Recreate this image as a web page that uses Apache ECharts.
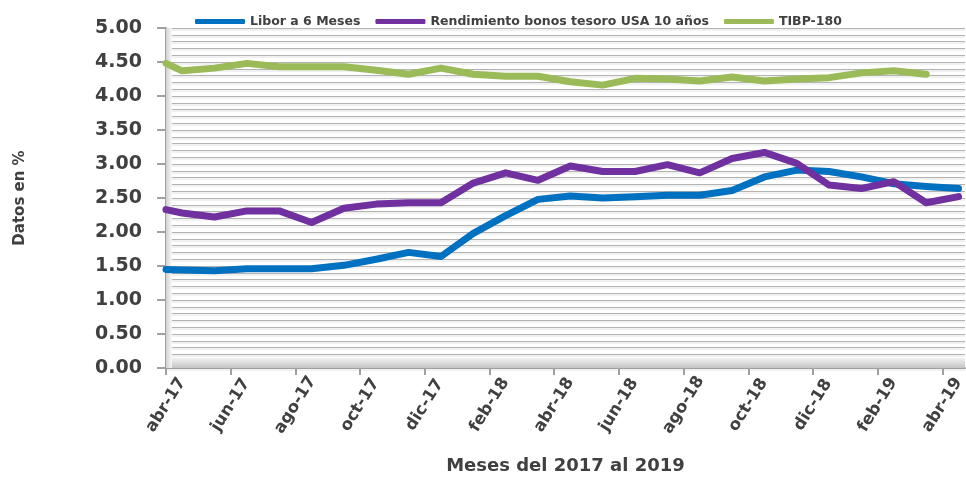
<!DOCTYPE html>
<html>
<head>
<meta charset="utf-8">
<script src="https://cdn.jsdelivr.net/npm/echarts@6/dist/echarts.min.js"></script>
<style>
  html, body { margin: 0; padding: 0; background: #fff; }
  #grafica { width: 966px; height: 480px; }
</style>
</head>
<body>
<div id="grafica"></div>
<script>
// Posición de cada dato en meses desde abr-17
const posicionMes = [0, 0.5, 1.5, 2.5, 3.5, 4.5, 5.5, 6.5, 7.5, 8.5, 9.5, 10.5, 11.5, 12.5,
  13.5, 14.5, 15.5, 16.5, 17.5, 18.5, 19.5, 20.5, 21.5, 22.5, 23.5, 24.5]

// Etiquetas del eje X (cada 2 meses)
const valoresTick = [0, 2, 4, 6, 8, 10, 12, 14, 16, 18, 20, 22, 24]
const etiquetasMes = ['abr-17', 'jun-17', 'ago-17', 'oct-17', 'dic-17', 'feb-18', 'abr-18',
  'jun-18', 'ago-18', 'oct-18', 'dic-18', 'feb-19', 'abr-19']

// Series
const libor = [1.45, 1.44, 1.43, 1.46, 1.46, 1.46, 1.51, 1.60, 1.70, 1.64, 1.98, 2.24, 2.48,
  2.53, 2.50, 2.52, 2.54, 2.54, 2.61, 2.81, 2.91, 2.89, 2.81, 2.71, 2.67, 2.64]
const bonosUSA = [2.33, 2.28, 2.22, 2.31, 2.31, 2.14, 2.35, 2.41, 2.43, 2.43, 2.72, 2.87, 2.76,
  2.97, 2.89, 2.89, 2.99, 2.87, 3.08, 3.17, 3.01, 2.69, 2.64, 2.74, 2.43, 2.52]
const tibp180 = [4.48, 4.37, 4.41, 4.48, 4.43, 4.43, 4.43, 4.38, 4.32, 4.41, 4.32, 4.29, 4.29,
  4.21, 4.16, 4.26, 4.25, 4.22, 4.28, 4.22, 4.25, 4.27, 4.34, 4.37, 4.32]

const nombres = ['Libor a 6 Meses', 'Rendimiento bonos tesoro USA 10 años', 'TIBP-180']
const colores = ['#0070C0', '#7030A0', '#9BBB59']

const fuente = 'DejaVu Sans'
const gris = '#404040'

// une posición y valor
const pares = (valores) => valores.map((v, i) => [posicionMes[i], v])

const myChart = echarts.init(document.getElementById('grafica'))

const linea = (nombre, valores, color) => ({
  name: nombre,
  type: 'line',
  data: pares(valores),
  showSymbol: false,
  symbol: 'none',
  color: color,
  lineStyle: { width: 7, color: color, cap: 'round', join: 'round' },
  z: 3
})

const series = [
  linea(nombres[0], libor, colores[0]),
  linea(nombres[1], bonosUSA, colores[1]),
  linea(nombres[2], tibp180, colores[2])
]

// "piso" y "pared" en 3D como en Excel
series[0].markArea = {
  silent: true,
  data: [
    [{ yAxis: 0 }, { yAxis: 0.15 }],
    [{ xAxis: 0 }, { xAxis: 0.18 }]
  ],
  itemStyle: {
    color: new echarts.graphic.LinearGradient(0, 0, 0, 1, [
      { offset: 0, color: '#f4f4f4' },
      { offset: 1, color: '#c4c4c4' }
    ])
  }
}
series[0].markArea.data[1][0].itemStyle = {
  color: new echarts.graphic.LinearGradient(0, 0, 1, 0, [
    { offset: 0, color: '#d0d0d0' },
    { offset: 1, color: '#f8f8f8' }
  ])
}

const lineaRejilla = { color: '#b3b3b3', width: 1.2, shadowColor: 'rgba(0,0,0,0.12)', shadowOffsetY: 1.5, shadowBlur: 1 }

const option = {
  animation: false,
  backgroundColor: '#fff',
  textStyle: { fontFamily: fuente },
  legend: {
    left: 190,
    top: 10,
    itemWidth: 50,
    itemHeight: 5,
    itemGap: 15,
    icon: 'roundRect',
    textStyle: { fontFamily: fuente, fontWeight: 'bold', fontSize: 12.5, color: gris },
    data: nombres
  },
  grid: { left: 166, right: 1, top: 28, bottom: 112, outerBoundsMode: 'none', containLabel: false },
  xAxis: {
    type: 'value',
    min: 0,
    max: 24.7,
    interval: 2,
    name: 'Meses del 2017 al 2019',
    nameLocation: 'middle',
    nameGap: 89,
    nameTextStyle: { fontFamily: fuente, fontWeight: 'bold', fontSize: 18, color: gris },
    axisLine: { show: true, onZero: false, lineStyle: { color: '#a0a0a0', width: 2 } },
    axisTick: { show: true, length: 7, customValues: valoresTick, lineStyle: { color: '#a0a0a0', width: 2 } },
    axisLabel: {
      customValues: valoresTick,
      formatter: (v) => {
        const i = valoresTick.indexOf(v)
        return i >= 0 ? etiquetasMes[i] : ''
      },
      rotate: 58,
      align: 'center',
      verticalAlign: 'middle',
      margin: 37,
      fontFamily: fuente,
      fontWeight: 'bold',
      fontSize: 16.5,
      color: gris
    },
    splitLine: { show: false }
  },
  yAxis: {
    type: 'value',
    min: 0,
    max: 5,
    interval: 0.5,
    name: 'Datos en %',
    nameLocation: 'middle',
    nameRotate: 90,
    nameGap: 138,
    nameTextStyle: { fontFamily: fuente, fontWeight: 'bold', fontSize: 15, color: gris },
    axisLine: { show: true, lineStyle: { color: '#a0a0a0', width: 2 } },
    axisTick: { show: true, length: 9, lineStyle: { color: '#a0a0a0', width: 2 } },
    axisLabel: {
      formatter: (v) => v.toFixed(2),
      margin: 24,
      fontFamily: fuente,
      fontWeight: 'bold',
      fontSize: 19,
      color: gris
    },
    splitLine: { show: true, lineStyle: lineaRejilla },
    minorTick: { show: false, splitNumber: 5 },
    minorSplitLine: { show: true, lineStyle: lineaRejilla }
  },
  series
}

myChart.setOption(option)
</script>
</body>
</html>
